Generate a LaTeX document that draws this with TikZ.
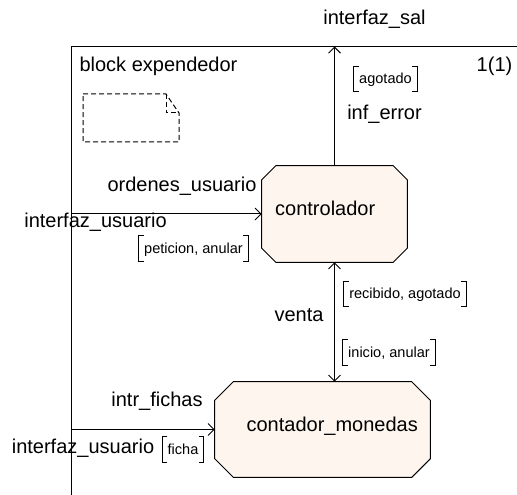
\documentclass[tikz,border=0pt]{standalone}
\usepackage{fontspec}
\setmainfont{Liberation Sans}
\usetikzlibrary{arrows.meta,backgrounds}

\definecolor{blockfill}{RGB}{254,246,238}

\tikzset{
  wire/.style={line width=0.75pt},
  sigarrow/.style={wire,-{Straight Barb[length=4.5pt,width=9pt]}},
  sigboth/.style={wire,{Straight Barb[length=4.5pt,width=9pt]}-{Straight Barb[length=4.5pt,width=9pt]}},
  txt/.style={inner sep=0pt,text height=0.72em,text depth=0pt,font=\fontsize{15pt}{18pt}\selectfont},
  siglist/.style={inner xsep=3.75pt,inner ysep=5.8pt,text height=0.72em,text depth=0pt,font=\fontsize{10.9pt}{13pt}\selectfont},
  process/.style={rectangle,inner sep=0pt,text height=0.72em,text depth=4.5pt,font=\fontsize{15pt}{18pt}\selectfont}
}

\begin{document}
\begin{tikzpicture}[x=0.75pt,y=-0.75pt]
\useasboundingbox (0,0) rectangle (517,495);

% Frame of the block
\coordinate (fbot) at (71.5,495);
\coordinate (ftop) at (71.5,46.5);
\coordinate (fright) at (517,46.5);
\draw [wire] (fbot) -- (ftop) -- (fright);

% Block name and page number
\node (bname) [txt] at (158.5,67) {block expendedor};
\node (page) [txt] at (494.5,67) {1(1)};

% Dashed document symbol
\draw [wire,dash pattern=on 3.75pt off 2.25pt] (83,94) -- (166,94) -- (179,113) -- (179,142) -- (83,142) -- cycle;
\draw [wire,dash pattern=on 3.75pt off 2.25pt] (166,94) -- (166,113) -- (179,113);

% Processes
\node (ctrl) [process,minimum width=108.75pt,minimum height=72pt,
  text width=89pt,align=left] at (334.5,214) {controlador};
\node (cont) [process,minimum width=161.25pt,minimum height=71.25pt,
  text width=143pt,align=right] at (322.5,429.5) {contador\_monedas};

% Chamfered outlines of the processes
\begin{scope}[on background layer]
\foreach \p/\c in {ctrl/14,cont/18.5}{
  \filldraw [wire,fill=blockfill]
    ([xshift=\c*0.75pt]\p.north west) -- ([xshift=-\c*0.75pt]\p.north east)
    -- ([yshift=-\c*0.75pt]\p.north east) -- ([yshift=\c*0.75pt]\p.south east)
    -- ([xshift=-\c*0.75pt]\p.south east) -- ([xshift=\c*0.75pt]\p.south west)
    -- ([yshift=\c*0.75pt]\p.south west) -- ([yshift=-\c*0.75pt]\p.north west) -- cycle;
}
\end{scope}

% Channel inf_error
\draw [sigarrow] (ctrl.north) -- (ctrl.north |- ftop);
\node (sal) [txt] at (374.5,20) {interfaz\_sal};
\node (err) [txt] at (384.5,115) {inf\_error};
\node (sagot) [siglist] at (385.5,79) {agotado};

% Channel ordenes_usuario
\draw [sigarrow] (ctrl.west -| ftop) -- (ctrl.west);
\node (ord) [txt] at (182,187) {ordenes\_usuario};
\node (iusr) [txt] at (95.5,223) {interfaz\_usuario};
\node (speti) [siglist] at (193.5,248.5) {peticion, anular};

% Channel venta
\draw [sigboth] (ctrl.south) -- (ctrl.south |- cont.north);
\node (vent) [txt] at (299,317) {venta};
\node (srecib) [siglist] at (405,294) {recibido, agotado};
\node (sinic) [siglist] at (389,352.5) {inicio, anular};

% Channel intr_fichas
\draw [sigarrow] (cont.west -| ftop) -- (cont.west);
\node (fich) [txt] at (157,402) {intr\_fichas};
\node (iusr2) [txt] at (83,449) {interfaz\_usuario};
\node (sficha) [siglist] at (183,449.5) {ficha};

% Brackets round the signal lists
\foreach \s in {sagot,speti,srecib,sinic,sficha}{
  \draw [wire] ([xshift=3.75pt]\s.north west) -| (\s.south west) -- ++(5,0);
  \draw [wire] ([xshift=-3.75pt]\s.north east) -| (\s.south east) -- ++(-5,0);
}

\end{tikzpicture}
\end{document}
